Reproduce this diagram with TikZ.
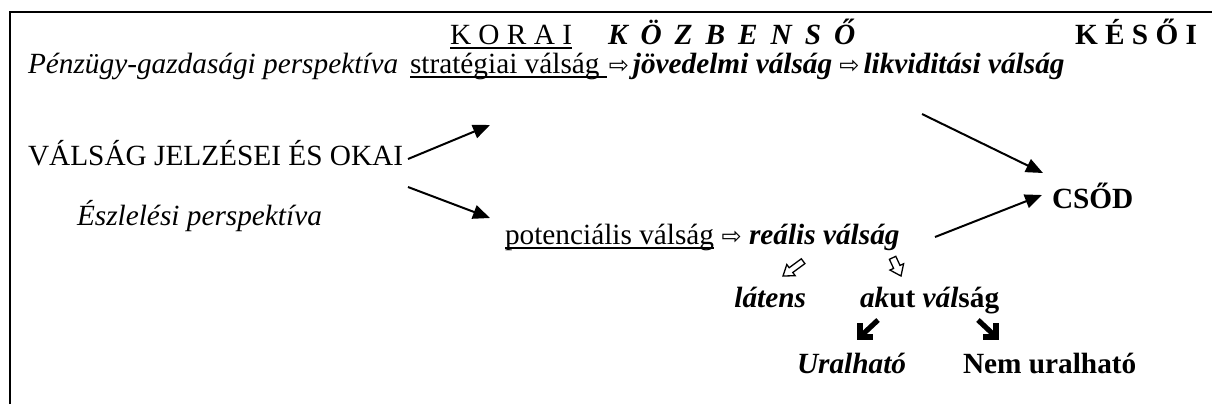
\documentclass[tikz,border=0pt]{standalone}
\usepackage{fontspec}
\setmainfont{Liberation Serif}
\newfontfamily\arrowfont{DejaVu Sans}
\usetikzlibrary{arrows.meta,calc}
\newcommand\fsz{\fontsize{14.65}{17}\selectfont}
\begin{document}
\begin{tikzpicture}[x=0.5pt,y=-0.5pt,
  every node/.style={inner sep=0pt, outer sep=0pt, anchor=base west},
  trm/.style={font=\fsz},
  tit/.style={font=\fsz\itshape},
  tbf/.style={font=\fsz\bfseries},
  tbi/.style={font=\fsz\bfseries\itshape},
  tarr/.style={font=\arrowfont\fontsize{12}{14}\selectfont},
  con/.style={line width=1pt, -{Triangle[length=8.5pt,width=7pt]}},
  uline/.style={line width=0.9pt},
  wht/.style={draw, fill=white, line width=0.65pt, line join=miter},
  blk/.style={line width=2.6pt, line join=miter}]
\useasboundingbox (0,0) rectangle (1212,404);
% frame
\draw[line width=1.2pt] (10,404) -- (10,12) -- (1212,12);
% row 1
\node[trm] (korai) at (450,44) {K O R A I};
\draw[uline] ([yshift=-1.8pt]korai.base west) -- ([yshift=-1.8pt]korai.base east);
\node[tbi] (kozb) at (608,44) {K\hspace{6.5pt}Ö\hspace{6.5pt}Z\hspace{6.5pt}B\hspace{6.5pt}E\hspace{6.5pt}N\hspace{6.5pt}S\hspace{6.5pt}Ő};
\node[tbf] (keso) at (1075,44) {K É S Ő I};
% row 2
\node[tit] (penz) at (28,73) {Pénzügy-gazdasági perspektíva};
\node[trm] (strat) at (410,73) {stratégiai válság};
\draw[uline] ([yshift=-1.8pt]strat.base west) -- ([xshift=3.6pt,yshift=-1.8pt]strat.base east);
\node[tarr] (ar1) at ([xshift=4.6pt]strat.base east) {⇨};
\node[tbi] (jov) at ([xshift=2pt]ar1.base east) {jövedelmi válság};
\node[tarr] (ar2) at ([xshift=3.6pt]jov.base east) {⇨};
\node[tbi] (likv) at ([xshift=2pt]ar2.base east) {likviditási válság};
% middle
\node[trm] (valsag) at (28,165) {VÁLSÁG JELZÉSEI ÉS OKAI};
\node[tit] (eszl) at (77,225) {Észlelési perspektíva};
\node[trm] (pot) at (505,244) {potenciális válság};
\draw[uline] ([yshift=-1.8pt]pot.base west) -- ([yshift=-1.8pt]pot.base east);
\node[tarr] (ar3) at ([xshift=3.8pt]pot.base east) {⇨};
\node[tbi] (real) at ([xshift=3.6pt]ar3.base east) {reális válság};
\node[tbf] (csod) at (1052,208) {CSŐD};
% lower
\node[tbi, anchor=base east] (latens) at (806,307) {látens};
\node[tbf] (akut) at (860,307) {\itshape ak\upshape ut \itshape vál\upshape ság};
\node[tbi] (ural) at (797,373) {Uralható};
\node[tbf] (nem) at (963,373) {Nem uralható};
% connectors
\coordinate (s1) at (408,159); \coordinate (t1) at (490,125);
\coordinate (s2) at (408,187); \coordinate (t2) at (490,218);
\coordinate (s3) at (922,114); \coordinate (t3) at (1043,173);
\coordinate (s4) at (935,237); \coordinate (t4) at (1042,195);
\draw[con] (s1) -- (t1);
\draw[con] (s2) -- (t2);
\draw[con] (s3) -- (t3);
\draw[con] (s4) -- (t4);
% outline arrows (south-west and south-east)
\draw[wht] (783,276) -- (795.2,275.7) -- (792.8,272.5) -- (804.9,263.6) -- (801.3,258.8)
  -- (789.2,267.7) -- (786.8,264.5) -- cycle;
\draw[wht] (901,276) -- (903.6,263.75) -- (900.0,265.4) -- (895.8,256.3) -- (889.4,259.3)
  -- (893.6,268.4) -- (890.0,270.05) -- cycle;
% black corner arrows
\draw[blk] (860,323) -- (860,337) -- (873,337);
\draw[blk] (862,335) -- (878,320);
\draw[blk] (996,323) -- (996,337) -- (983,337);
\draw[blk] (994,335) -- (978,320);
\end{tikzpicture}
\end{document}
